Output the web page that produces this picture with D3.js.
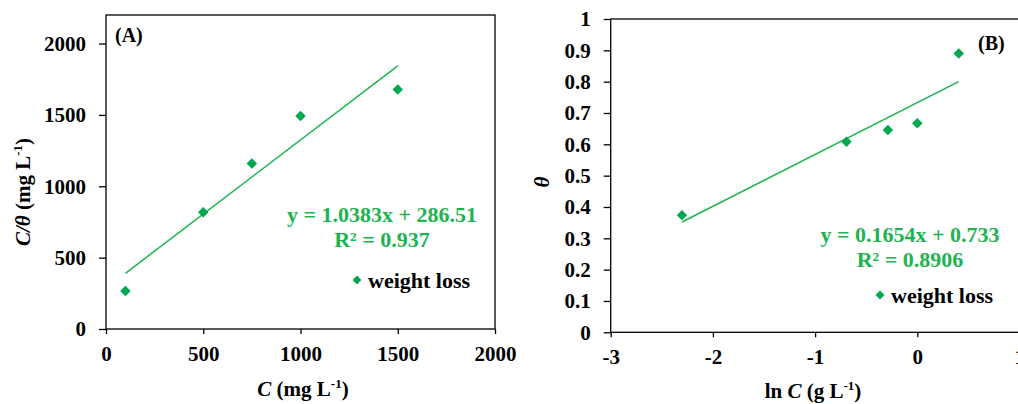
<!DOCTYPE html>
<html>
<head>
<meta charset="utf-8">
<script src="https://cdn.jsdelivr.net/npm/d3@7/dist/d3.min.js"></script>
<style>
body{margin:0;background:#fff;}
svg{display:block;}
text{font-family:"Liberation Serif","Times New Roman",serif;font-weight:bold;}
.axis path{display:none;}
.axis line{stroke:#000;stroke-width:1.3;}
.axis text{font-size:21px;fill:#000;font-family:"Liberation Serif","Times New Roman",serif;}
</style>
</head>
<body>
<svg id="chart" width="1018" height="404"></svg>
<script>
// panel A: C vs C/theta
var concA = [100, 500, 750, 1000, 1500];
var ratioA = [266, 818, 1159, 1492, 1678];
var fitA = {slope: 1.0383, icpt: 286.51, r2: "0.937"};
var xTicksA = [0, 500, 1000, 1500, 2000];
var yTicksA = [0, 500, 1000, 1500, 2000];

// panel B: ln C vs theta
var lnConcB = [-2.3026, -0.6931, -0.2877, 0, 0.4055];
var thetaB = [0.374, 0.608, 0.646, 0.667, 0.890];
var fitB = {slope: 0.1654, icpt: 0.733, r2: "0.8906"};
var xTicksB = [-3, -2, -1, 0, 1];
var yTicksB = [0, 0.1, 0.2, 0.3, 0.4, 0.5, 0.6, 0.7, 0.8, 0.9, 1];

var green_txt = "#1db44f";
var green_pt = "#00a84f";
var svg = d3.select("#chart");

function drawPanel(cfg){
	var xScale = d3.scaleLinear().domain(cfg.xDomain).range(cfg.xRange);
	var yScale = d3.scaleLinear().domain(cfg.yDomain).range(cfg.yRange);
	var g = svg.append("g");

	// frame
	g.append("rect")
	 .attr("x", cfg.xRange[0]).attr("y", cfg.yRange[1])
	 .attr("width", cfg.xRange[1] - cfg.xRange[0])
	 .attr("height", cfg.yRange[0] - cfg.yRange[1])
	 .attr("fill", "none").attr("stroke", "#000").attr("stroke-width", 1.3);

	var axX = d3.axisBottom(xScale).tickValues(cfg.xTicks).tickSizeInner(5).tickSizeOuter(0).tickPadding(12)
				.tickFormat(function(d){ return String(d); });
	g.append("g").attr("class", "axis")
	 .attr("transform", "translate(0," + cfg.yRange[0] + ")")
	 .call(axX);

	var axY = d3.axisLeft(yScale).tickValues(cfg.yTicks).tickSizeInner(7).tickSizeOuter(0).tickPadding(13)
				.tickFormat(function(d){ return String(d); });
	g.append("g").attr("class", "axis")
	 .attr("transform", "translate(" + cfg.xRange[0] + ",0)")
	 .call(axY);

	// trend line
	var xs = d3.extent(cfg.xs);
	g.append("line")
	 .attr("x1", xScale(xs[0])).attr("y1", yScale(cfg.fit.slope*xs[0] + cfg.fit.icpt))
	 .attr("x2", xScale(xs[1])).attr("y2", yScale(cfg.fit.slope*xs[1] + cfg.fit.icpt))
	 .attr("stroke", green_txt).attr("stroke-width", 1.5);

	// points
	var diamond = d3.symbol().type(d3.symbolDiamond2).size(70);
	g.selectAll(".pt").data(cfg.xs).enter().append("path")
	 .attr("class", "pt")
	 .attr("d", diamond)
	 .attr("transform", function(d, i){ return "translate(" + xScale(d) + "," + yScale(cfg.ys[i]) + ")"; })
	 .attr("fill", green_pt);

	// equation
	g.append("text").attr("x", cfg.eqX).attr("y", cfg.eqY)
	 .attr("text-anchor", "middle").attr("font-size", 22).attr("fill", green_txt)
	 .text("y = " + cfg.fit.slope + "x + " + cfg.fit.icpt);
	g.append("text").attr("x", cfg.eqX).attr("y", cfg.eqY + 25)
	 .attr("text-anchor", "middle").attr("font-size", 22).attr("fill", green_txt)
	 .text("R\u00b2 = " + cfg.fit.r2);

	// legend
	g.append("path").attr("d", d3.symbol().type(d3.symbolDiamond2).size(50))
	 .attr("transform", "translate(" + cfg.legX + "," + cfg.legY + ")")
	 .attr("fill", green_pt);
	g.append("text").attr("x", cfg.legX + 11).attr("y", cfg.legY + 8)
	 .attr("font-size", 22).attr("fill", "#000").text("weight loss");

	// panel tag
	g.append("text").attr("x", cfg.tagX).attr("y", cfg.tagY)
	 .attr("font-size", 20).attr("fill", "#000").text(cfg.tag);

	return g;
}

var gA = drawPanel({
	xDomain: [0, 2000], xRange: [106, 495],
	yDomain: [0, 2200], yRange: [329, 15],
	xTicks: xTicksA, yTicks: yTicksA,
	xs: concA, ys: ratioA, fit: fitA,
	eqX: 382, eqY: 222, legX: 357, legY: 280,
	tag: "(A)", tagX: 115, tagY: 42
});

var gB = drawPanel({
	xDomain: [-3, 1], xRange: [610.7, 1019.5],
	yDomain: [0, 1], yRange: [332.3, 19],
	xTicks: xTicksB, yTicks: yTicksB,
	xs: lnConcB, ys: thetaB, fit: fitB,
	eqX: 910, eqY: 242, legX: 880, legY: 295,
	tag: "(B)", tagX: 978, tagY: 50
});

// axis titles
var tA = gA.append("text").attr("x", 303).attr("y", 396).attr("text-anchor", "middle").attr("font-size", 21);
tA.append("tspan").attr("font-style", "italic").text("C");
tA.append("tspan").text(" (mg L");
tA.append("tspan").attr("font-size", 13).attr("dy", -8).text("-1");
tA.append("tspan").attr("dy", 8).text(")");

var yA = gA.append("text").attr("transform", "translate(30,192) rotate(-90)").attr("text-anchor", "middle").attr("font-size", 21);
yA.append("tspan").attr("font-style", "italic").text("C/\u03b8");
yA.append("tspan").text(" (mg L");
yA.append("tspan").attr("font-size", 13).attr("dy", -8).text("-1");
yA.append("tspan").attr("dy", 8).text(")");

var tB = gB.append("text").attr("x", 813).attr("y", 398).attr("text-anchor", "middle").attr("font-size", 21);
tB.append("tspan").text("ln ");
tB.append("tspan").attr("font-style", "italic").text("C");
tB.append("tspan").text(" (g L");
tB.append("tspan").attr("font-size", 13).attr("dy", -8).text("-1");
tB.append("tspan").attr("dy", 8).text(")");

gB.append("text").attr("transform", "translate(549,182) rotate(-90)").attr("text-anchor", "middle")
  .attr("font-size", 21).attr("font-style", "italic").text("\u03b8");
</script>
</body>
</html>
